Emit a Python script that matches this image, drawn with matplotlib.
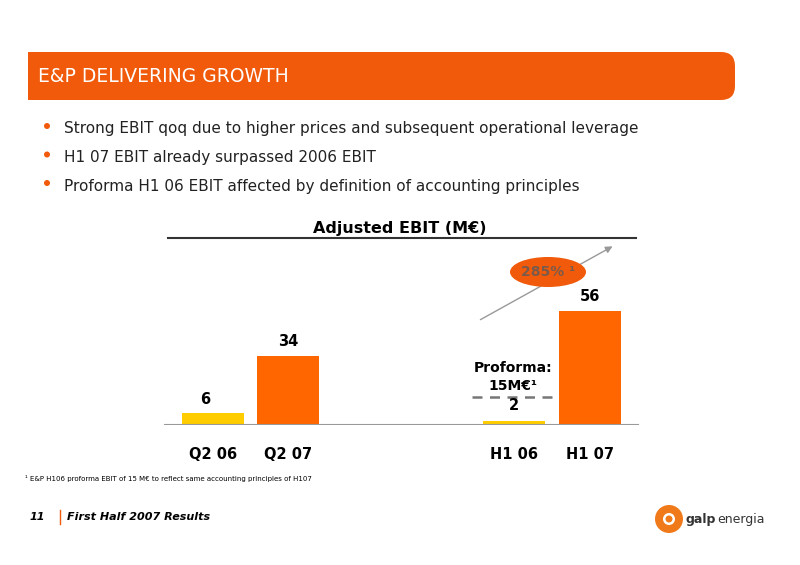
import matplotlib.pyplot as plt
from matplotlib.patches import FancyBboxPatch, Ellipse, Circle

categories = ['Q2 06', 'Q2 07', 'H1 06', 'H1 07']
positions = [0, 1, 4, 5]
values = [6, 34, 2, 56]
colors = ['#FFCC00', '#FF6600', '#FFCC00', '#FF6600']
bullets = ['Strong EBIT qoq due to higher prices and subsequent operational leverage',
           'H1 07 EBIT already surpassed 2006 EBIT',
           'Proforma H1 06 EBIT affected by definition of accounting principles']

W, H = 800, 565
fig = plt.figure(figsize=(8, 5.65), dpi=100)
bg = fig.add_axes([0, 0, 1, 1])
bg.set_xlim(0, W)
bg.set_ylim(H, 0)
bg.axis('off')

# header band
bg.add_patch(FancyBboxPatch((28, 52), 707, 48, boxstyle='round,pad=0,rounding_size=14',
                            fc='#F05A0A', ec='none'))
bg.add_patch(plt.Rectangle((28, 52), 40, 48, fc='#F05A0A', ec='none'))
bg.text(38, 77, 'E&P DELIVERING GROWTH', color='white', fontsize=13.5, va='center')

for i, b in enumerate(bullets):
    y = 129 + i * 28.5
    bg.add_patch(Circle((47, y - 3), 3, fc='#F05A0A', ec='none'))
    bg.text(64, y, b, fontsize=11, va='center', color='#222222')

bg.text(400, 228, 'Adjusted EBIT (M€)', fontsize=11.5, fontweight='bold', ha='center', va='center')
bg.plot([168, 636], [238, 238], color='#333333', lw=1.5)

# chart
ax = fig.add_axes([152.6 / W, (H - 425) / H, (650 - 152.6) / W, 143 / H])
ax.set_xlim(-0.8, 5.8)
ax.set_ylim(0, 70)
ax.bar(positions, values, width=0.82, color=colors)
ax.axhline(0, xmin=0.025, xmax=0.975, color='#999999', lw=1.5)
ax.axis('off')
for p, v, c in zip(positions, values, categories):
    ax.text(p - 0.1 if v < 10 else p, v + 3, str(v), ha='center', va='bottom',
            fontsize=10.5, fontweight='bold')
    ax.text(p, -11, c, ha='center', va='top', fontsize=10.5, fontweight='bold')
ax.texts[4].set_position((4, 6))

bg.text(513, 377, 'Proforma:\n15M€¹', ha='center', va='center', fontsize=10,
        fontweight='bold', linespacing=1.4)
bg.plot([472, 556], [397, 397], color='#777777', lw=1.8, ls=(0, (4, 3)))

bg.annotate('', xy=(615, 245), xytext=(478, 321),
            arrowprops=dict(arrowstyle='-|>', color='#999999', lw=1))
bg.add_patch(Ellipse((548, 272), 76, 30, fc='#F05A0A', ec='none', zorder=5))
bg.text(548, 272, '285% ¹', ha='center', va='center', fontsize=10, fontweight='bold',
        color='#7A5A4A', zorder=6)

bg.text(25, 479, '¹ E&P H106 proforma EBIT of 15 M€ to reflect same accounting principles of H107',
        fontsize=5, va='center')
bg.text(30, 517, '11', fontsize=8, fontweight='bold', style='italic', va='center')
bg.plot([60, 60], [510, 524], color='#F05A0A', lw=1)
bg.text(67, 517, 'First Half 2007 Results', fontsize=8, fontweight='bold', style='italic',
        va='center')

bg.add_patch(Circle((669, 519), 14, fc='#F07A1A', ec='none'))
bg.add_patch(Circle((669, 519), 6, fc='white', ec='none'))
bg.add_patch(Circle((669, 519), 3.5, fc='#F07A1A', ec='none'))
bg.text(686, 519, 'galp', fontsize=9, fontweight='bold', va='center', color='#333333')
bg.text(717, 519, 'energia', fontsize=9, va='center', color='#333333')

fig.savefig('out.png', dpi=100)
